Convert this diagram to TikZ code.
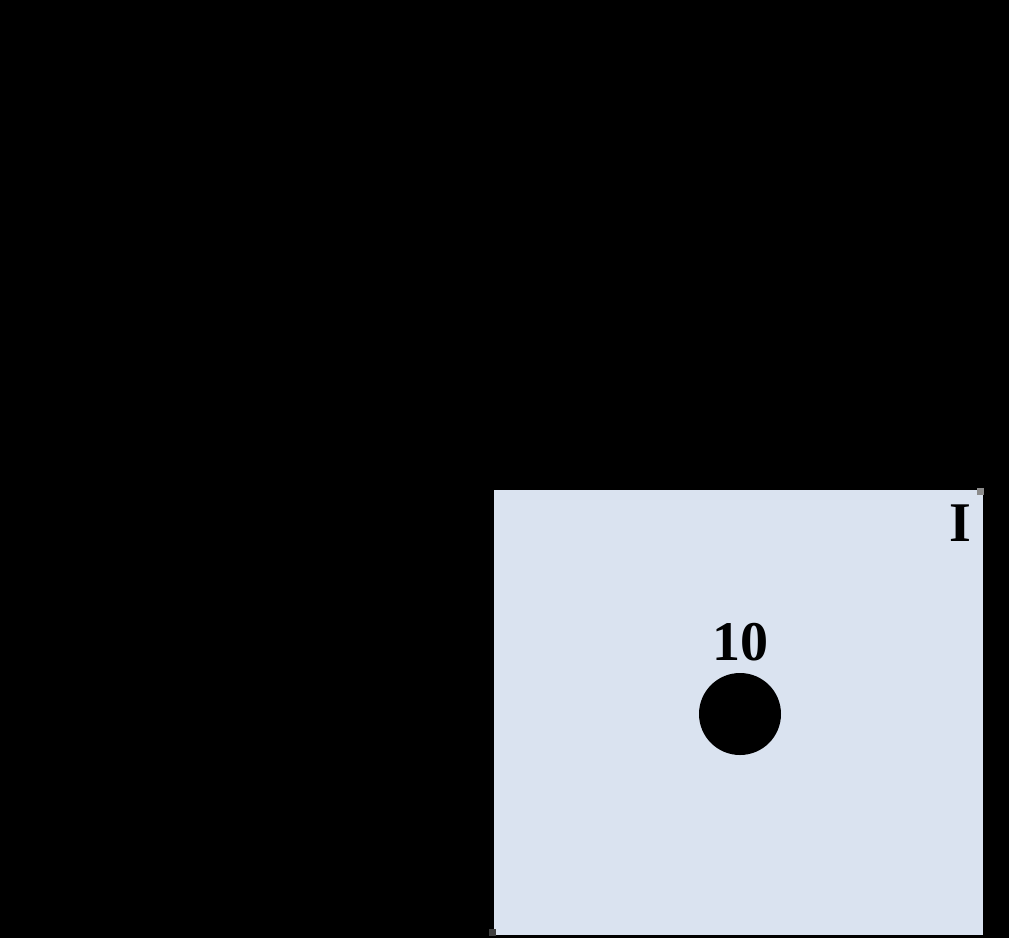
\documentclass[tikz,border=0pt]{standalone}
\usepackage{fontspec}
\setmainfont{Liberation Serif}
\usepackage{tikz}
\usetikzlibrary{positioning,calc}
\definecolor{panel}{HTML}{DAE3F0}
\tikzset{lbl/.style={font=\bfseries\fontsize{56}{60}\selectfont,inner sep=0pt,text=black},
	tick/.style={fill=black!45,minimum size=7pt,inner sep=0pt}}

\begin{document}
\begin{tikzpicture}[x=1pt,y=-1pt]
		\fill[black] (0,0) rectangle (1009,938);
		\useasboundingbox (0,0) rectangle (1009,938);
		\fill[panel] (494,490) rectangle (983,935);
		
		\path
		(980,491) node[tick](ne){}
		(492,932) node[tick,fill=black!75](sw){};
		
		\path
		(960,523) node[lbl](zone){I}
		(740,642) node[lbl](val){10};
		
		\fill[black] (740,714) circle (41);
		\node[circle,minimum size=82pt,inner sep=0pt] (pt) at (740,714) {};
	\end{tikzpicture}
\end{document}
